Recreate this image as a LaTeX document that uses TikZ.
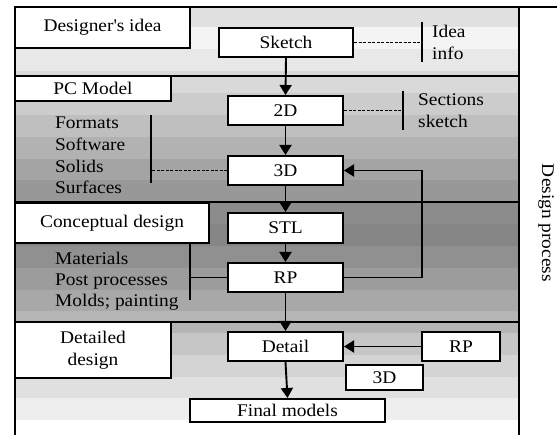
\documentclass[tikz,border=0pt]{standalone}
\usepackage{fontspec}
\setmainfont{Liberation Serif}[FakeStretch=1.09]
\usetikzlibrary{arrows.meta}
\begin{document}
\begin{tikzpicture}[x=1pt,y=-1pt,
  every node/.style={font=\fontsize{17.8}{21.7}\selectfont},
  box/.style={draw=black,line width=2pt,fill=white,inner sep=0pt,align=center},
  lbl/.style={anchor=base west,inner sep=0pt},
  frameline/.style={line width=1.6pt},
  conn/.style={line width=1.9pt},
  arr/.style={line width=1.9pt,-{Triangle[width=12pt,length=10pt]}},
  dashconn/.style={line width=1.6pt,dash pattern=on 3pt off 1.5pt},
  bar/.style={line width=1.9pt}]
\useasboundingbox (0,0) rectangle (557,435);
\fill[white] (0,0) rectangle (557,435);
% shaded bands
\foreach \a/\b/\g in {7/27/0.878,27/49/0.957,49/71/0.91,71/93/0.85,93/115/0.80,
  115/137/0.75,137/159/0.70,159/180/0.645,180/202/0.595,202/224/0.55,
  224/246/0.525,246/268/0.565,268/290/0.61,290/311/0.66,311/333/0.71,
  333/355/0.775,355/377/0.83,377/398/0.88,398/420/0.935}{
  \definecolor{bandc}{gray}{\g}
  \fill[bandc] (15,\a) rectangle (519,\b);
}
% frame
\draw[frameline] (15,435) -- (15,7) -- (557,7);
\draw[frameline] (519,7) -- (519,435);
\draw[frameline] (15,76) -- (519,76);
\draw[frameline] (15,202) -- (519,202);
\draw[frameline] (15,322) -- (519,322);

% coordinates for connectors
\coordinate (ideabar) at (422,42.5);
\coordinate (ideatop) at (422,22);
\coordinate (ideabot) at (422,62);
\coordinate (secbar) at (403,110.5);
\coordinate (sectop) at (403,91);
\coordinate (secbot) at (403,130);
\coordinate (fmtbar) at (151,170.5);
\coordinate (fmttop) at (151,115);
\coordinate (fmtbot) at (151,183);
\coordinate (matbar) at (190,277.5);
\coordinate (mattop) at (190,243);
\coordinate (matbot) at (190,300);
\coordinate (fb) at (422,224);

% boxes
\node[box,minimum width=175pt,minimum height=41pt] (idea) at (102.5,27.5) {Designer\textquotesingle s idea};
\node[box,minimum width=134pt,minimum height=29pt] (sketch) at (286,42.5) {Sketch};
\node[box,minimum width=156pt,minimum height=25pt] (pcm) at (93,88.5) {PC Model};
\node[box,minimum width=115pt,minimum height=29pt] (twod) at (285.5,110.5) {2D};
\node[box,minimum width=115pt,minimum height=29pt] (thrd) at (285.5,170.5) {3D};
\node[box,minimum width=194pt,minimum height=40pt] (concept) at (112,223) {Conceptual design};
\node[box,minimum width=115pt,minimum height=30pt] (stl) at (285.5,228) {STL};
\node[box,minimum width=115pt,minimum height=29pt] (rp) at (285.5,277.5) {RP};
\node[box,minimum width=156pt,minimum height=56pt] (detailed) at (93,350) {Detailed\\design};
\node[box,minimum width=115pt,minimum height=29pt] (detail) at (285.5,346.5) {Detail};
\node[box,minimum width=78pt,minimum height=29pt] (rptwo) at (461,346.5) {RP};
\node[box,minimum width=77pt,minimum height=25pt] (thrdtwo) at (384.5,377.5) {3D};
\node[box,minimum width=195pt,minimum height=23pt] (final) at (287.5,410.5) {Final models};

% connectors
\draw[arr] (sketch.south) -- (twod.north);
\draw[arr] (twod.south) -- (thrd.north);
\draw[arr] (thrd.south) -- (stl.north);
\draw[arr] (stl.south) -- (rp.north);
\draw[arr] (rp.south) -- (detail.north);
\draw[arr] (detail.south) -- (final.north);
\draw[arr] (rp.east) -| (fb) |- (thrd.east);
\draw[arr] (rptwo.west) -- (detail.east);
\draw[dashconn] (sketch.east) -- (ideabar);
\draw[bar] (ideatop) -- (ideabot);
\draw[dashconn] (twod.east) -- (secbar);
\draw[bar] (sectop) -- (secbot);
\draw[dashconn] (thrd.west) -- (fmtbar);
\draw[bar] (fmttop) -- (fmtbot);
\draw[conn] (rp.west) -- (matbar);
\draw[bar] (mattop) -- (matbot);

% labels
\node[lbl] (l1) at (432,38) {Idea};
\node[lbl] (l2) at (432,60) {info};
\node[lbl] (l3) at (418,106) {Sections};
\node[lbl] (l4) at (418,128) {sketch};
\node[lbl] (l5) at (55,129) {Formats};
\node[lbl] (l6) at (55,151) {Software};
\node[lbl] (l7) at (55,173) {Solids};
\node[lbl] (l8) at (55,194) {Surfaces};
\node[lbl] (l9) at (55,265) {Materials};
\node[lbl] (l10) at (55,286) {Post processes};
\node[lbl] (l11) at (55,307) {Molds; painting};
\node[rotate=-90,inner sep=0pt] (dp) at (546,223) {Design process};
\end{tikzpicture}
\end{document}
